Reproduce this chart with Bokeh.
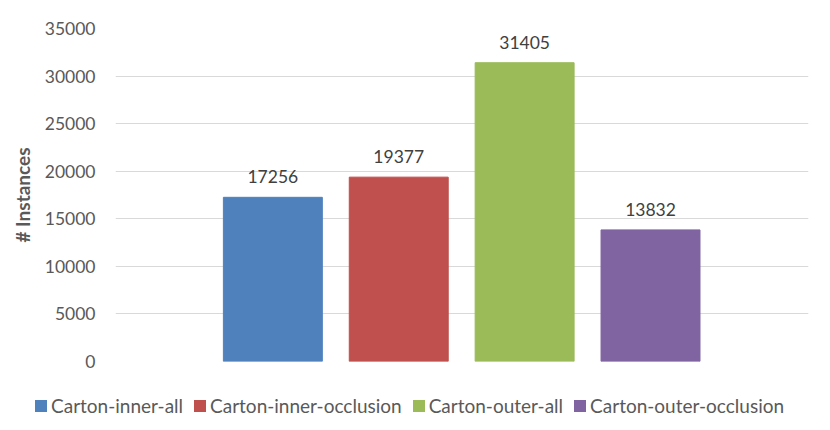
from bokeh.plotting import figure
from bokeh.layouts import column
from bokeh.models import ColumnDataSource, LabelSet, Range1d, SingleIntervalTicker, NumeralTickFormatter, Div
from bokeh.core.properties import value
from bokeh.embed import file_html
from bokeh.resources import INLINE

categories = ["Carton-inner-all", "Carton-inner-occlusion", "Carton-outer-all", "Carton-outer-occlusion"]
values = [17256, 19377, 31405, 13832]
colors = ["#4F81BD", "#C0504D", "#9BBB59", "#8064A2"]
positions = [0, 1, 2, 3]

src = ColumnDataSource(dict(x=positions, top=values, color=colors, label=categories,
                            txt=[str(v) for v in values]))

FONT = "Lato"
p = figure(width=822, height=371, output_backend="svg", toolbar_location=None,
           x_range=Range1d(-1.25, 4.255), y_range=Range1d(0, 35000),
           x_axis_type=None, min_border_left=115, min_border_right=14,
           min_border_top=28, min_border_bottom=10)
p.outline_line_color = None
p.background_fill_color = "white"
p.border_fill_color = "white"

p.ygrid.grid_line_color = "#D9D9D9"
p.ygrid.grid_line_width = 1
p.xgrid.grid_line_color = None

ax = p.yaxis[0]
ax.ticker = SingleIntervalTicker(interval=5000)
ax.formatter = NumeralTickFormatter(format="0")
ax.axis_line_color = None
ax.major_tick_line_color = None
ax.minor_tick_line_color = None
ax.major_tick_out = 0
ax.major_label_standoff = 16
ax.major_label_text_font = FONT
ax.major_label_text_font_size = "17.5px"
ax.major_label_text_color = "#595959"
ax.axis_label = "# Instances"
ax.axis_label_text_font = FONT
ax.axis_label_text_font_size = "19px"
ax.axis_label_text_font_style = "bold"
ax.axis_label_text_color = "#595959"
ax.axis_label_standoff = 8

p.vbar(x="x", top="top", width=0.786, color="color", source=src)

labels = LabelSet(x="x", y="top", text="txt", source=src, text_align="center",
                  text_baseline="bottom", y_offset=14, text_font=value(FONT),
                  text_font_size=value("17.5px"), text_color=value("#404040"))
p.add_layout(labels)

# legend row below the chart, built from the category names and colours
item_html = "".join(
    f'<span style="display:inline-flex;align-items:center;margin-right:11px;">'
    f'<span style="display:inline-block;width:12px;height:12px;background:{c};margin-right:4px;"></span>'
    f'<span>{name}</span></span>'
    for name, c in zip(categories, colors)
)
legend_div = Div(
    text=f'<div style="display:flex;align-items:center;white-space:nowrap;font-family:Lato;'
         f'font-size:19px;line-height:22px;color:#595959;padding-left:30px;padding-top:19px;">'
         f'{item_html}</div>',
    width=822, height=51,
)

layout = column(p, legend_div, spacing=0)
open("out.html", "w").write(file_html(layout, INLINE))
